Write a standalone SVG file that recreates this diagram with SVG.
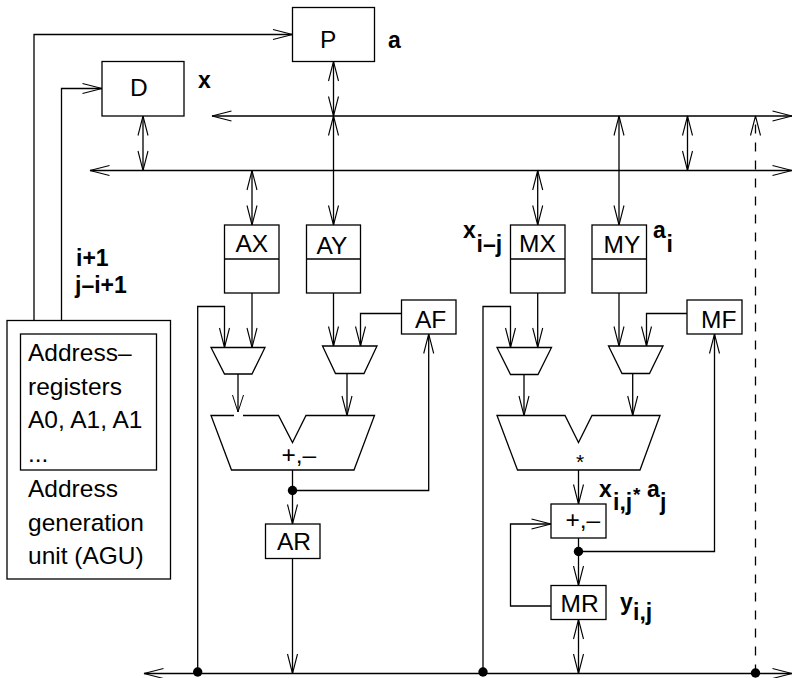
<svg xmlns="http://www.w3.org/2000/svg" width="792" height="678" viewBox="0 0 792 678">
<style>
text{font-family:"Liberation Sans",Arial,Helvetica,sans-serif;font-size:24.5px;fill:#000}
.b{font-weight:bold;font-size:23px}
.box{fill:#fff;stroke:#000;stroke-width:1.3}
.c{fill:none;stroke:#000;stroke-width:1.3}
.a{marker-end:url(#h)}
.d{marker-start:url(#h);marker-end:url(#h)}
.dot{fill:#000}
</style>
<defs>
<marker id="h" markerUnits="userSpaceOnUse" markerWidth="24" markerHeight="14" refX="21" refY="7" orient="auto-start-reverse" overflow="visible">
<path d="M1.500 2 L21 7 L1.500 12" fill="none" stroke="#000" stroke-width="1.100"/>
</marker>
</defs>
<g id="connectors">
<path class="c a" d="M34 320.500V34.500H292.500"/>
<path class="c a" d="M61.500 320.500V88.500H102"/>
<path class="c d" d="M792 116H212"/>
<path class="c d" d="M792 170.500H90"/>
<path class="c d" d="M792 673.500H144"/>
<path class="c d" d="M333.500 61.500V116"/>
<path class="c d" d="M333.500 116V225"/>
<path class="c d" d="M143 116V170.500"/>
<path class="c d" d="M252 170.500V225"/>
<path class="c d" d="M537.700 170.500V225"/>
<path class="c d" d="M619 116V225"/>
<path class="c d" d="M687.500 116V170.500"/>
<path class="c d" d="M578.500 619.500V673.500"/>
<path class="c a" stroke-dasharray="9 9" d="M755.500 673.500V116"/>
<path class="c a" d="M252 293V347.500"/>
<path class="c a" d="M333.500 293V346"/>
<path class="c a" d="M537.700 293V347.500"/>
<path class="c a" d="M619 293V346"/>
<path class="c a" d="M197.700 673.500V306.500H224.500V347.500"/>
<path class="c a" d="M483 673.500V306.500H510.500V347.500"/>
<path class="c a" d="M401.500 313.500H360.500V346"/>
<path class="c a" d="M687 313.500H646.500V346"/>
<path class="c a" d="M347 374V415.500"/>
<path class="c a" d="M524 374.500V415.500"/>
<path class="c a" d="M632.700 374V415.500"/>
<path class="c" d="M292.500 470V490.500"/>
<path class="c a" d="M292.500 490.500V524"/>
<path class="c a" d="M292.500 490.500H428.700V334"/>
<path class="c a" d="M292.500 558.500V673.500"/>
<path class="c a" d="M578.500 470V504"/>
<path class="c" d="M578.500 538V551.500"/>
<path class="c a" d="M578.500 551.500V585.500"/>
<path class="c a" d="M578.500 551.500H714.500V334"/>
<path class="c a" d="M551 606H510.500V524H551"/>
</g>
<g id="P"><rect class="box" x="292.500" y="7.500" width="82" height="54"/><text x="320" y="48">P</text></g>
<text class="b" x="388" y="48">a</text>
<g id="D"><rect class="box" x="102" y="61.500" width="82" height="54.500"/><text x="130" y="96">D</text></g>
<text class="b" x="198" y="88">x</text>
<text class="b" x="76" y="265.500">i+1</text>
<text class="b" x="75" y="292.500">j–i+1</text>
<g id="AX"><rect class="box" x="224.500" y="225" width="54.500" height="68"/><path class="c" d="M224.500 259H279"/><text x="235.500" y="252">AX</text></g>
<g id="AY"><rect class="box" x="306.500" y="225" width="54" height="68"/><path class="c" d="M306.500 259H360.500"/><text x="316.500" y="254">AY</text></g>
<g id="MX"><rect class="box" x="510.500" y="225" width="54.500" height="68"/><path class="c" d="M510.500 259H565"/><text x="519" y="252">MX</text></g>
<g id="MY"><rect class="box" x="592" y="225" width="54.500" height="68"/><path class="c" d="M592 259H646.500"/><text x="603.500" y="253">MY</text></g>
<text class="b" x="463" y="238">x</text>
<text class="b" x="476.500" y="252">i–j</text>
<text class="b" x="653" y="238">a</text>
<text class="b" x="666.500" y="252">i</text>
<g id="AF"><rect class="box" x="401.500" y="300" width="54.500" height="34"/><text x="415" y="328">AF</text></g>
<g id="MF"><rect class="box" x="687" y="300" width="55" height="34"/><text x="701" y="328">MF</text></g>
<g id="AGU"><rect class="box" x="7" y="320.500" width="163.500" height="258.500"/><rect class="box" x="20.500" y="334" width="136" height="136"/>
<text x="28" y="361">Address–</text><text x="28" y="394.500">registers</text><text x="28" y="428">A0, A1, A1</text><text x="28" y="462">...</text><text x="28" y="497">Address</text><text x="28" y="530.500">generation</text><text x="28" y="564">unit (AGU)</text></g>
<g id="mux-a1"><path class="box" d="M211 347.500H265L252 374H224.500Z"/></g>
<g id="mux-a2"><path class="box" d="M322.500 346H377L364 373.500H335.500Z"/></g>
<g id="mux-m1"><path class="box" d="M497 347.500H551.500L538 374.500H510.500Z"/></g>
<g id="mux-m2"><path class="box" d="M608.500 346H663L649.500 373.500H622Z"/></g>
<g id="adder"><path class="box" d="M211 415.500H278.500L292.500 442.500L306 415.500H374.500L354 470H231.500Z"/><rect x="234" y="412" width="9" height="6" fill="#fff"/><path class="c" d="M238 374V412"/><path d="M232.500 395L238 412L243.500 395" fill="none" stroke="#000" stroke-width="1"/><text x="281.500" y="463">+,–</text></g>
<g id="multiplier"><path class="box" d="M497 415.500H565L578.500 442.500L592 415.500H660L640 470H517.500Z"/><text x="576" y="469" style="font-size:21px">*</text></g>
<g id="AR"><rect class="box" x="265.500" y="524" width="54.500" height="34.500"/><text x="277" y="550">AR</text></g>
<g id="addsub"><rect class="box" x="551" y="504" width="55" height="34"/><text x="565.500" y="528">+,–</text></g>
<g id="MR"><rect class="box" x="551" y="585.500" width="55" height="34"/><text x="560.500" y="612">MR</text></g>
<text class="b" x="599" y="497">x</text><text class="b" x="613" y="510">i,j</text><text class="b" x="633" y="501" style="font-size:19px">*</text><text class="b" x="647" y="497">a</text><text class="b" x="660" y="510">j</text>
<text class="b" x="620" y="610">y</text><text class="b" x="633" y="619.500">i,j</text>
<circle class="dot" cx="292.500" cy="490.500" r="4.700"/>
<circle class="dot" cx="578.500" cy="551.500" r="4.700"/>
<circle class="dot" cx="197.700" cy="672" r="4.700"/>
<circle class="dot" cx="483" cy="672" r="4.700"/>
<circle class="dot" cx="755.500" cy="673" r="4.700"/>
</svg>
